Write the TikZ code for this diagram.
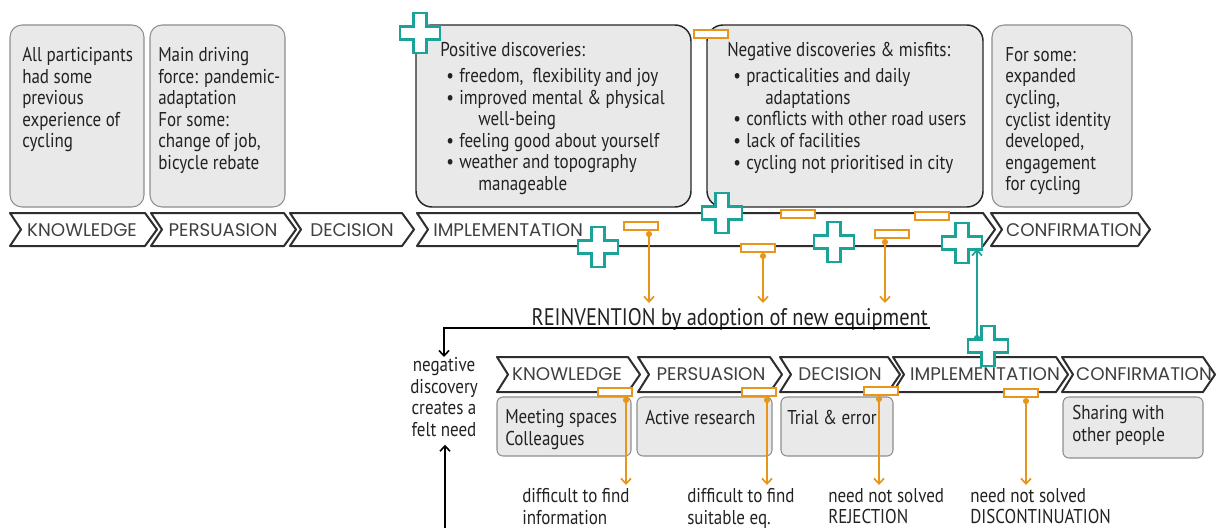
\documentclass[tikz,border=0pt]{standalone}
\usepackage{fontspec}
\setmainfont{PT Sans}[FakeStretch=0.85]
\newfontfamily\stagefont{Poppins}
\usetikzlibrary{arrows.meta}

\definecolor{boxgray}{HTML}{E9E9E9}
\definecolor{edgegray}{HTML}{8E8E8E}
\definecolor{inkgray}{HTML}{222222}
\definecolor{chevgray}{HTML}{2E2E2E}
\definecolor{needorange}{HTML}{E8951B}
\definecolor{plusteal}{HTML}{1AA399}

% one stage of the adoption process: left x, tip x, top y, bottom y
\newcommand\stagechevron[4]{%
  \draw[chevron] (#1,#3) -- ({#2-12},#3) -- (#2,{(#3+#4)/2}) -- ({#2-12},#4)
    -- (#1,#4) -- ({#1+11},{(#3+#4)/2}) -- cycle;}
% bullet and hanging indent for the discovery lists
\newcommand\bul{\hspace*{4.5pt}\makebox[9.75pt][l]{\textbullet}}
\newcommand\cont{\hspace*{28.5pt}}

\begin{document}
\begin{tikzpicture}[x=0.75pt,y=-0.75pt,
    font=\fontsize{15}{16.2}\selectfont,text=inkgray,
    >={Straight Barb[length=4pt,width=7.5pt]},
    infobox/.style={draw=edgegray,fill=boxgray,line width=0.8pt,rounded corners=9pt},
    findbox/.style={infobox,draw=black!85,line width=1.1pt,rounded corners=12pt},
    smallbox/.style={infobox,rounded corners=4.5pt},
    chevron/.style={draw=chevgray,line width=1.5pt,fill=white,line join=round},
    stagelabel/.style={font=\stagefont\fontsize{13.7}{15}\selectfont,text=black!75,inner sep=0},
    boxtext/.style={align=left,inner sep=0,anchor=north west},
    plusmark/.style={draw=plusteal,fill=white,line width=1.6pt},
    minusmark/.style={draw=needorange,fill=white,line width=1.6pt,
      minimum width=25.5pt,minimum height=6pt,inner sep=0},
    needline/.style={needorange,line width=1.3pt,{Circle[length=4.5pt]}->},
    plusline/.style={plusteal,line width=1.3pt,{Circle[length=4.5pt]}->}]
  \useasboundingbox (0,0) rectangle (1216,528);

  % boxes above the first pass
  \draw[infobox] (10,25) rectangle (144,207);
  \draw[infobox] (150,25) rectangle (285,207);
  \draw[findbox] (416,25) rectangle (691,207);
  \draw[findbox] (707,25) rectangle (983,207);
  \draw[infobox] (992,25) rectangle (1132,207);

  \node[boxtext] (prior) at (22,47) {All participants\\had some\\previous\\experience of\\cycling};
  \node[boxtext] (force) at (158,47) {Main driving\\force: pandemic-\\adaptation\\For some:\\change of job,\\bicycle rebate};
  \node[boxtext] (posi) at (440,42) {Positive discoveries:\\[3.4pt]
    \bul freedom,\ \ flexibility and joy\\
    \bul improved mental \& physical\\
    \cont well-being\\
    \bul feeling good about yourself\\
    \bul weather and topography\\
    \cont manageable};
  \node[boxtext] (nega) at (727,42) {Negative discoveries \& misfits:\\[3.4pt]
    \bul practicalities and daily\\
    \cont adaptations\\
    \bul conflicts with other road users\\
    \bul lack of facilities\\
    \bul cycling not prioritised in city};
  \node[boxtext] (later) at (1005,47) {For some:\\expanded\\cycling,\\cyclist identity\\developed,\\engagement\\for cycling};

  % first pass through the stages
  \stagechevron{10}{157}{213}{246}
  \stagechevron{151}{296}{213}{246}
  \stagechevron{290}{414}{213}{246}
  \stagechevron{417}{995}{213}{246}
  \stagechevron{991}{1150}{213}{246}
  \node[stagelabel] (know1) at (82,230) {KNOWLEDGE};
  \node[stagelabel] (pers1) at (223,230) {PERSUASION};
  \node[stagelabel] (deci1) at (352,230) {DECISION};
  \node[stagelabel,anchor=west] (impl1) at (433,230) {IMPLEMENTATION};
  \node[stagelabel] (conf1) at (1074,230) {CONFIRMATION};

  % reinvention loop
  \node[anchor=base east,inner sep=0,font=\fontsize{18}{18}\selectfont] (reinv) at (928,325) {REINVENTION by adoption of new equipment};
  \coordinate (reinvend) at (930,328);
  \node[align=center,inner sep=0,anchor=north] (need) at (444,357) {negative\\discovery\\creates a\\felt need};
  \coordinate (loopin) at (445,528);
  \draw[->,line width=1.2pt] (reinvend) -| (need.north);
  \draw[->,line width=1.2pt] (loopin) -- ([yshift=-6pt]need.south -| loopin);

  % second pass through the stages
  \stagechevron{497}{640}{357}{392}
  \stagechevron{638}{782}{357}{392}
  \stagechevron{780}{900}{357}{392}
  \stagechevron{893}{1068}{357}{392}
  \stagechevron{1062}{1215}{357}{392}
  \node[stagelabel] (know2) at (567,374) {KNOWLEDGE};
  \node[stagelabel] (pers2) at (711,374) {PERSUASION};
  \node[stagelabel] (deci2) at (840,374) {DECISION};
  \node[stagelabel] (impl2) at (985,374) {IMPLEMENTATION};
  \node[stagelabel] (conf2) at (1144,374) {CONFIRMATION};

  \draw[smallbox] (497,397) rectangle (631,456);
  \draw[smallbox] (637,397) rectangle (772,456);
  \draw[smallbox] (781,397) rectangle (893,456);
  \draw[smallbox] (1063,397) rectangle (1203,458);
  \node[boxtext] (meet) at (505,409) {Meeting spaces\\Colleagues};
  \node[boxtext] (research) at (645,410) {Active research};
  \node[boxtext] (trial) at (787,410) {Trial \& error};
  \node[boxtext] (share) at (1072,405) {Sharing with\\other people};

  % misfits and the needs they leave
  \node[minusmark] (neg1) at (711,34) {};
  \node[minusmark] (neg2) at (641,226) {};
  \node[minusmark] (neg3) at (798,214) {};
  \node[minusmark] (neg4) at (932,216) {};
  \node[minusmark] (neg5) at (758,248) {};
  \node[minusmark] (neg6) at (892,234) {};
  \node[minusmark] (negk) at (615,392) {};
  \node[minusmark] (negp) at (759,392) {};
  \node[minusmark] (negd) at (881,391) {};
  \node[minusmark] (negi) at (1021,393) {};

  \coordinate (adopt1) at (649,303);
  \coordinate (adopt2) at (763,303);
  \coordinate (adopt3) at (885,303);
  \draw[needline] (neg2.south -| adopt1) -- (adopt1);
  \draw[needline] (neg5.south -| adopt2) -- (adopt2);
  \draw[needline] (neg6.south -| adopt3) -- (adopt3);

  \coordinate (fail1) at (626,485);
  \coordinate (fail2) at (767,485);
  \coordinate (fail3) at (879,485);
  \coordinate (fail4) at (1026,485);
  \draw[needline] (negk.south -| fail1) -- (fail1);
  \draw[needline] (negp.south -| fail2) -- (fail2);
  \draw[needline] (negd.south -| fail3) -- (fail3);
  \draw[needline] (negi.south -| fail4) -- (fail4);
  \node[boxtext] (info) at (522,488) {difficult to find\\information};
  \node[boxtext] (equip) at (687,488) {difficult to find\\suitable eq.};
  \node[boxtext] (reject) at (828,488) {need not solved\\REJECTION};
  \node[boxtext] (discont) at (970,488) {need not solved\\DISCONTINUATION};

  % positive discoveries
  \foreach \n/\px/\py in {1/420/33,2/598/247,3/722/213,4/834/242,5/962/243,6/988/346}
    \draw[plusmark] (\px,\py) coordinate (plus\n) ++(-6.5,-20) -- ++(13,0) -- ++(0,13.5)
      -- ++(13.5,0) -- ++(0,13) -- ++(-13.5,0) -- ++(0,13.5) -- ++(-13,0)
      -- ++(0,-13.5) -- ++(-13.5,0) -- ++(0,-13) -- ++(13.5,0) -- cycle;
  \coordinate (keep) at (977,341);
  \coordinate (keepend) at (977,249);
  \draw[plusline] (keep) -- (keepend);
\end{tikzpicture}
\end{document}
